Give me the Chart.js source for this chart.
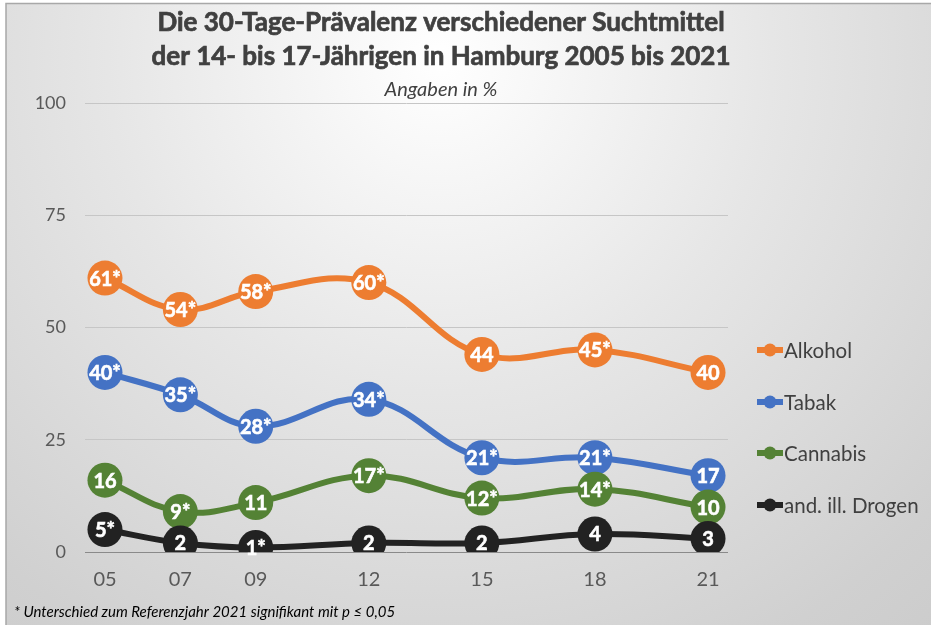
<!DOCTYPE html>
<html><head><meta charset="utf-8">
<script src="https://cdn.jsdelivr.net/npm/chart.js@4"></script>
<style>html,body{margin:0;padding:0;background:#fff}#wrap{width:931px;height:625px}</style>
</head>
<body><div id="wrap"><canvas id="c" width="931" height="625"></canvas></div>
<script>
const years=[2005,2007,2009,2012,2015,2018,2021];
const tickLabels=['05','07','09','12','15','18','21'];
const seriesNames=['Alkohol','Tabak','Cannabis','and. ill. Drogen'];
const alkohol=[61,54,58,60,44,45,40];
const tabak=[40,35,28,34,21,21,17];
const cannabis=[16,9,11,17,12,14,10];
const drogen=[5,2,1,2,2,4,3];
const alkoholLabels=['61*','54*','58*','60*','44','45*','40'];
const tabakLabels=['40*','35*','28*','34*','21*','21*','17'];
const cannabisLabels=['16','9*','11','17*','12*','14*','10'];
const drogenLabels=['5*','2','1*','2','2','4','3'];
const yTicks=[0,25,50,75,100];
const titleLines=['Die 30-Tage-Prävalenz verschiedener Suchtmittel','der 14- bis 17-Jährigen in Hamburg 2005 bis 2021'];
const subtitle='Angaben in %';
const footnote='* Unterschied zum Referenzjahr 2021 signifikant mit p \u2264 0,05';

const colors=['#ED7D31','#4472C4','#548235','#222222'];
const values=[alkohol,tabak,cannabis,drogen];
const labels=[alkoholLabels,tabakLabels,cannabisLabels,drogenLabels];
const FONT='Lato, "Open Sans", sans-serif';

const datasets=values.map((vals,k)=>({
  label:seriesNames[k],
  data:years.map((x,i)=>({x:x,y:vals[i]})),
  borderColor:colors[k],
  backgroundColor:colors[k],
  pointBackgroundColor:colors[k],
  pointBorderColor:colors[k],
  pointBorderWidth:0,
  pointRadius:17.5,
  pointHoverRadius:17.5,
  borderWidth:6,
  tension:0.4,
  order:values.length-k,
  dataLabels:labels[k]
}));

const bgPlugin={id:'bg',beforeDraw(chart){
  const c=chart.ctx;const W=chart.width,H=chart.height;
  c.save();
  c.fillStyle='#ffffff';c.fillRect(0,0,W,H);
  const g=c.createRadialGradient(440,60,0,440,60,950);
  g.addColorStop(0,'#ffffff');
  g.addColorStop(0.35,'#e6e6e6');
  g.addColorStop(0.7,'#d0d0d0');
  g.addColorStop(1,'#c4c4c4');
  c.fillStyle=g;c.fillRect(6,3,W-6,H-3);
  c.strokeStyle='#a8a8a8';c.lineWidth=1.5;
  c.beginPath();c.moveTo(6,H);c.lineTo(6,3.5);c.lineTo(W,3.5);c.stroke();
  c.restore();
}};

const labelPlugin={id:'ptlabels',afterDatasetDraw(chart,args){
  const ds=chart.data.datasets[args.index];
  const c=chart.ctx;c.save();
  c.fillStyle='#ffffff';c.strokeStyle='#ffffff';c.lineWidth=0.6;
  c.font='bold 20px '+FONT;
  c.textAlign='center';c.textBaseline='middle';
  args.meta.data.forEach((pt,i)=>{c.fillText(ds.dataLabels[i],pt.x,pt.y+1);c.strokeText(ds.dataLabels[i],pt.x,pt.y+1);});
  c.restore();
}};

const decoPlugin={id:'deco',afterDraw(chart){
  const c=chart.ctx;c.save();
  c.fillStyle='#404040';c.strokeStyle='#404040';c.lineWidth=0.7;
  c.textAlign='center';c.textBaseline='middle';
  c.font='bold 26px '+FONT;
  c.fillText(titleLines[0],441,23);c.strokeText(titleLines[0],441,23);
  c.fillText(titleLines[1],441,57);c.strokeText(titleLines[1],441,57);
  c.font='italic 20px '+FONT;
  c.fillText(subtitle,441,90);
  const ly=[350,402,453,505];
  chart.data.datasets.forEach((ds,k)=>{
    const y=ly[k];
    c.strokeStyle=ds.borderColor;c.lineWidth=6;c.lineCap='butt';
    c.beginPath();c.moveTo(757,y);c.lineTo(783,y);c.stroke();
    c.fillStyle=ds.borderColor;c.beginPath();c.arc(770,y,6.5,0,Math.PI*2);c.fill();
    c.fillStyle='#404040';c.textAlign='left';c.font='20.5px '+FONT;
    c.fillText(ds.label,784,y+1);
  });
  c.fillStyle='#000000';c.textAlign='left';c.font='italic 15px '+FONT;
  c.fillText(footnote,14,612);
  c.restore();
}};

new Chart(document.getElementById('c'),{
  type:'line',
  data:{datasets:datasets},
  options:{
    responsive:false,animation:false,
    layout:{padding:{left:0,right:203,top:103,bottom:0}},
    plugins:{legend:{display:false},tooltip:{enabled:false},title:{display:false}},
    scales:{
      x:{type:'linear',min:2004.47,max:2021.53,
        afterBuildTicks(s){s.ticks=years.map(v=>({value:v}));},
        afterFit(s){s.height=73;},
        grid:{display:false},border:{display:false},
        ticks:{padding:8,color:'#595959',font:{family:FONT,size:20},
          callback(v){const i=years.indexOf(v);return i>=0?tickLabels[i]:'';},maxRotation:0,autoSkip:false}},
      y:{min:0,max:100,
        afterBuildTicks(s){s.ticks=yTicks.map(v=>({value:v}));},
        afterFit(s){s.width=85;},
        border:{display:false},
        grid:{drawTicks:false,lineWidth:1,color(ctx){return ctx.tick&&ctx.tick.value===0?'#8a8a8a':'#c6c6c6';}},
        ticks:{padding:19,color:'#595959',font:{family:FONT,size:18}}}
    }
  },
  plugins:[bgPlugin,labelPlugin,decoPlugin]
});
</script>
</body></html>
